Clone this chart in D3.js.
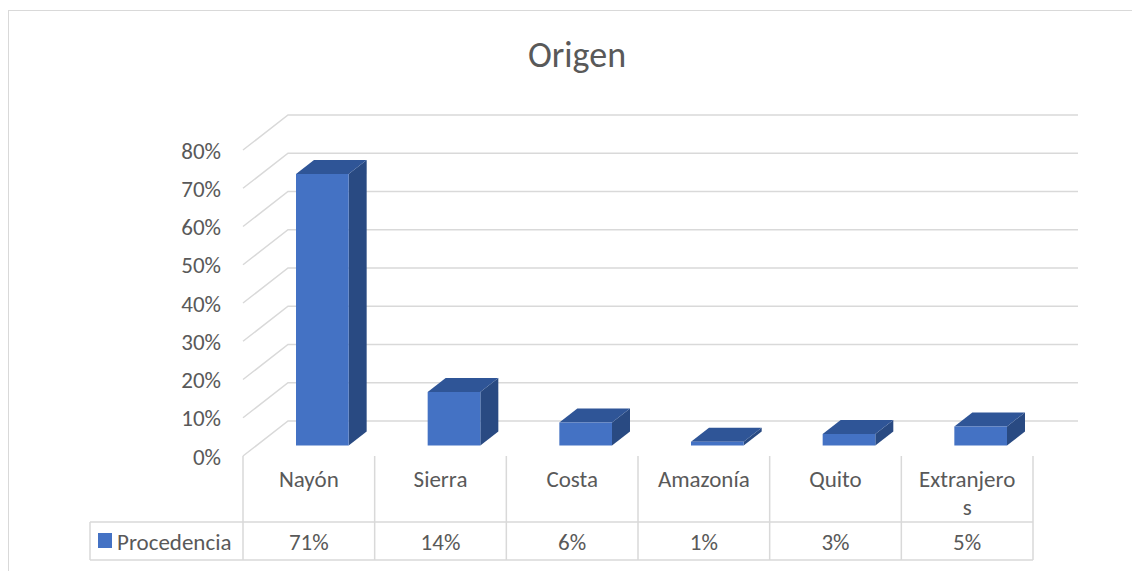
<!DOCTYPE html>
<html>
<head>
<meta charset="utf-8">
<script src="https://cdn.jsdelivr.net/npm/d3@7"></script>
<style>
  html, body { margin: 0; padding: 0; background: #fff; }
  svg { display: block; }
  text { font-family: Carlito, Calibri, Lato, sans-serif; fill: #595959; }
</style>
</head>
<body>
<svg id="chart" width="1132" height="571"></svg>
<script>
// ---- data ----
const title = "Origen";
const seriesName = "Procedencia";
const categories = ["Nayón", "Sierra", "Costa", "Amazonía", "Quito", "Extranjeros"];
const values = [0.71, 0.14, 0.06, 0.01, 0.03, 0.05];
const valueLabels = ["71%", "14%", "6%", "1%", "3%", "5%"];
const tickValues = [0, 0.1, 0.2, 0.3, 0.4, 0.5, 0.6, 0.7, 0.8];

// ---- layout ----
const W = 1132, H = 571;
const frontLeft = 243, frontRight = 1033;
const floorY = 456, topY = 150;
const depthDX = 45, depthDY = -35;
const tableTop = 522, tableBottom = 560, legendLeft = 90;
const grid = "#d9d9d9";
const cFront = "#4472c4", cTop = "#2f5597", cSide = "#294a82";
const fs = "23px";

const svg = d3.select("#chart");

// chart border
svg.append("rect").attr("x", 8.5).attr("y", 10.5).attr("width", W + 20).attr("height", H + 20)
  .attr("fill", "none").attr("stroke", grid).attr("stroke-width", 1);

const x = d3.scaleBand().domain(categories).range([frontLeft, frontRight]).paddingInner(0).paddingOuter(0);
const y = d3.scaleLinear().domain([0, 0.8]).range([floorY, topY]);
const proj = (px, py, d) => [px + depthDX * d, py + depthDY * d];

// title
svg.append("text").attr("x", 577).attr("y", 67).attr("text-anchor", "middle")
  .style("font-size", "36px").text(title);

// gridlines: back wall + side diagonals
const g = svg.append("g");
tickValues.forEach(t => {
  const a = [frontLeft, y(t)], b = proj(frontLeft, y(t), 1), c = proj(frontRight, y(t), 1);
  g.append("path").attr("d", d3.line()([a, b, c]))
    .attr("fill", "none").attr("stroke", grid).attr("stroke-width", 1.5);
});

// y axis tick labels
const yAxis = svg.append("g").attr("transform", `translate(${frontLeft - 22},0)`)
  .call(d3.axisLeft(y).tickValues(tickValues).tickFormat(d3.format(".0%")).tickSize(0).tickPadding(0));
yAxis.select(".domain").remove();
yAxis.selectAll("text").attr("x", 0).attr("dy", "0.35em").attr("text-anchor", "end")
  .style("font-size", fs).style("font-family", "Carlito, Calibri, Lato, sans-serif").attr("fill", "#595959");

// bars
const bw = x.bandwidth() * 0.4;
const d0 = 0.3, d1 = 0.7;
const bars = svg.append("g").selectAll("g").data(categories.map((c, i) => ({c, v: values[i]}))).join("g");
bars.each(function(d) {
  const sel = d3.select(this);
  const x0 = x(d.c) + (x.bandwidth() - bw) / 2, x1 = x0 + bw;
  const yv = y(d.v), y0 = y(0);
  const poly = pts => "M" + pts.map(p => p.join(",")).join("L") + "Z";
  sel.append("path").attr("d", poly([proj(x1, yv, d0), proj(x1, y0, d0), proj(x1, y0, d1), proj(x1, yv, d1)]))
    .attr("fill", cSide);
  sel.append("path").attr("d", poly([proj(x0, yv, d0), proj(x1, yv, d0), proj(x1, yv, d1), proj(x0, yv, d1)]))
    .attr("fill", cTop);
  sel.append("path").attr("d", poly([proj(x0, yv, d0), proj(x1, yv, d0), proj(x1, y0, d0), proj(x0, y0, d0)]))
    .attr("fill", cFront);
});

// data table lines
const t = svg.append("g").attr("stroke", grid).attr("stroke-width", 1.5);
[tableTop, tableBottom].forEach(yy => t.append("line").attr("x1", legendLeft).attr("x2", frontRight).attr("y1", yy).attr("y2", yy));
t.append("line").attr("x1", legendLeft).attr("x2", legendLeft).attr("y1", tableTop).attr("y2", tableBottom);
categories.concat([null]).forEach((c) => {
  const xx = c ? x(c) : frontRight;
  t.append("line").attr("x1", xx).attr("x2", xx).attr("y1", floorY).attr("y2", tableBottom);
});

// category labels (wrapped to cell width)
const maxW = x.bandwidth() - 30;
categories.forEach(c => {
  const cx = x(c) + x.bandwidth() / 2;
  const txt = svg.append("text").attr("x", cx).attr("text-anchor", "middle").style("font-size", fs);
  let lines = [], cur = "";
  const probe = svg.append("text").style("font-size", fs);
  for (const ch of c) {
    probe.text(cur + ch);
    if (probe.node().getComputedTextLength() > maxW && cur) { lines.push(cur); cur = ch; }
    else cur += ch;
  }
  probe.remove();
  lines.push(cur);
  lines.forEach((ln, k) => txt.append("tspan").attr("x", cx).attr("y", 487 + k * 28).text(ln));
});

// table values
categories.forEach((c, i) => {
  svg.append("text").attr("x", x(c) + x.bandwidth() / 2).attr("y", 550).attr("text-anchor", "middle")
    .style("font-size", fs).text(valueLabels[i]);
});

// legend key
svg.append("rect").attr("x", 98).attr("y", 533).attr("width", 14).attr("height", 15).attr("fill", cFront);
svg.append("text").attr("x", 117).attr("y", 550).style("font-size", fs).text(seriesName);
</script>
</body>
</html>
